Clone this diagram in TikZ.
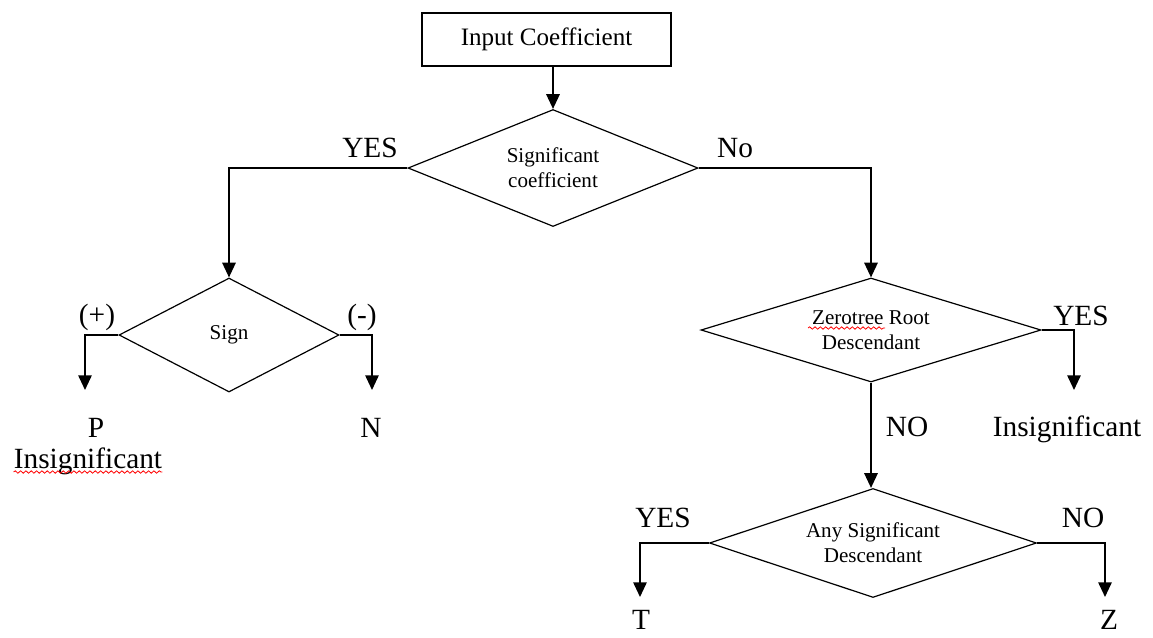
\documentclass[tikz,border=0pt]{standalone}
\usepackage{fontspec}
\setmainfont{Liberation Serif}
\usepackage{tikz}
\usetikzlibrary{arrows.meta,shapes,positioning,decorations.pathmorphing}
\tikzstyle{arrow} = [line width=1.3pt,-{Triangle[width=10pt,length=11pt]}]
\tikzstyle{process} = [rectangle, draw, line width=1pt, minimum width=186.75pt, minimum height=39.75pt, inner sep=0pt, font=\fontsize{18.8}{22}\selectfont]
\tikzstyle{decision} = [diamond, aspect=2.5, draw, line width=0.9pt, inner sep=0pt, align=center, font=\fontsize{15.8}{18.75}\selectfont]
\tikzstyle{answer} = [font=\fontsize{22}{26}\selectfont, inner sep=0pt, anchor=base]
\tikzstyle{squiggle} = [red, line width=0.6pt, decorate, decoration={snake, amplitude=0.9pt, segment length=4pt}]

\begin{document}
\begin{tikzpicture}[x=0.75pt, y=-0.75pt]
\useasboundingbox (0,0) rectangle (1153,637);
% Boxes and decisions
\node (input) [process] at (546.5,39.5) {Input Coefficient};
\node (sig) [decision, minimum width=217.5pt, minimum height=87.75pt] at (553,168) {Significant\\coefficient};
\node (sign) [decision, minimum width=165pt, minimum height=85.5pt] at (229,335) {Sign};
\node (zero) [decision, minimum width=255pt, minimum height=78pt] at (871,330) {Zerotree Root\\Descendant};
\node (any) [decision, minimum width=245.25pt, minimum height=81.75pt] at (873,543) {Any Significant\\Descendant};

% Free ends of the outcome arrows
\coordinate (pEnd) at (85,390);
\coordinate (nEnd) at (372,390);
\coordinate (insEnd) at (1074,390);
\coordinate (tEnd) at (640,597);
\coordinate (zEnd) at (1105,597);

% Connectors
\draw[arrow] (input.south -| sig.north) -- (sig.north);
\draw[arrow] (sig.west) -| (sign.north);
\draw[arrow] (sig.east) -| (zero.north);
\draw[arrow] (sign.west) -| (pEnd);
\draw[arrow] (sign.east) -| (nEnd);
\draw[arrow] (zero.east) -| (insEnd);
\draw[arrow] (zero.south) -- (zero.south |- any.north);
\draw[arrow] (any.west) -| (tEnd);
\draw[arrow] (any.east) -| (zEnd);

% Branch labels and outcomes
\node (yesSig) [answer] at (370,157) {YES};
\node (noSig) [answer] at (735,157) {No};
\node (plus) [answer, anchor=center] at (97,317) {(+)};
\node (minus) [answer, anchor=center] at (362,317) {(-)};
\node (pOut) [answer] at (96,437) {P};
\node (insLeft) [answer] at (88,468) {Insignificant};
\node (nOut) [answer] at (371,437) {N};
\node (yesZero) [answer] at (1081,325) {YES};
\node (noZero) [answer] at (907,436) {NO};
\node (insRight) [answer] at (1067,436) {Insignificant};
\node (yesAny) [answer] at (663,527) {YES};
\node (noAny) [answer] at (1083,527) {NO};
\node (tOut) [answer] at (641,629) {T};
\node (zOut) [answer] at (1109,629) {Z};

% spell check marks
\draw[squiggle] ([yshift=-3pt]insLeft.base west) -- ([yshift=-3pt]insLeft.base east);
\draw[squiggle] (808,328) -- (885,328);
\end{tikzpicture}
\end{document}
